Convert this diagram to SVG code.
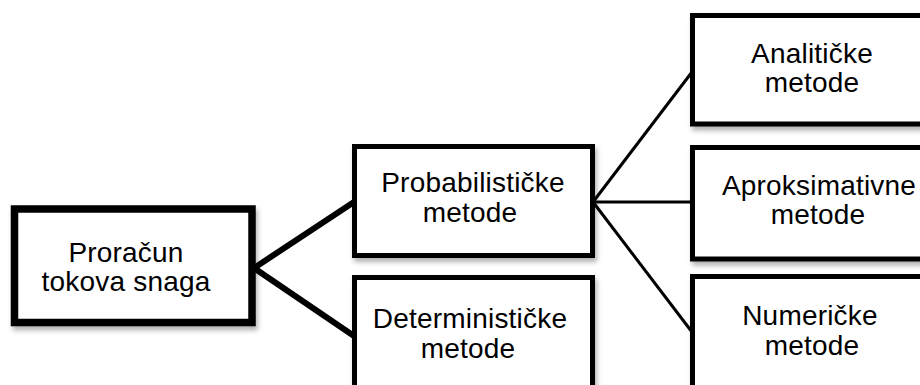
<svg xmlns="http://www.w3.org/2000/svg" width="920" height="385" viewBox="0 0 920 385">
<defs>
<filter id="sh" x="-10%" y="-10%" width="130%" height="140%">
<feDropShadow dx="2" dy="4" stdDeviation="2.5" flood-color="#000" flood-opacity="0.3"/>
</filter>
<style>
.box{fill:#fff;stroke:#000;stroke-width:5;filter:url(#sh)}
.main{stroke-width:7.5}
.lbl{font-family:"Liberation Sans",Arial,sans-serif;font-size:28px;letter-spacing:0.2px;fill:#000;text-anchor:middle}
.thick{stroke:#000;stroke-width:6;fill:none}
.thin{stroke:#000;stroke-width:3;fill:none}
</style>
</defs>
<rect width="920" height="385" fill="#fff"/>
<g id="connectors">
<line class="thick" x1="254" y1="268" x2="354" y2="202"/>
<line class="thick" x1="254" y1="268" x2="354" y2="336"/>
<line class="thin" x1="593" y1="202" x2="692" y2="72"/>
<line class="thin" x1="593" y1="202" x2="692" y2="202"/>
<line class="thin" x1="593" y1="202" x2="692" y2="332"/>
</g>
<g id="proracun">
<rect class="box main" x="14.5" y="209" width="237.5" height="113.5"/>
<text class="lbl" x="126" y="262">Proračun</text>
<text class="lbl" x="126" y="291">tokova snaga</text>
</g>
<g id="probabilisticke">
<rect class="box" x="354.5" y="146.5" width="238" height="109"/>
<text class="lbl" x="473" y="192">Probabilističke</text>
<text class="lbl" x="470" y="222">metode</text>
</g>
<g id="deterministicke">
<rect class="box" x="354.5" y="277.5" width="238" height="130"/>
<text class="lbl" x="470" y="328">Determinističke</text>
<text class="lbl" x="468" y="358">metode</text>
</g>
<g id="analiticke">
<rect class="box" x="692.5" y="15.5" width="250" height="108.5"/>
<text class="lbl" x="812" y="63">Analitičke</text>
<text class="lbl" x="812" y="92">metode</text>
</g>
<g id="aproksimativne">
<rect class="box" x="692.5" y="147.5" width="250" height="111.5"/>
<text class="lbl" x="819" y="195">Aproksimativne</text>
<text class="lbl" x="818" y="224">metode</text>
</g>
<g id="numericke">
<rect class="box" x="692.5" y="276.5" width="250" height="130"/>
<text class="lbl" x="810" y="325">Numeričke</text>
<text class="lbl" x="812" y="355">metode</text>
</g>
</svg>
